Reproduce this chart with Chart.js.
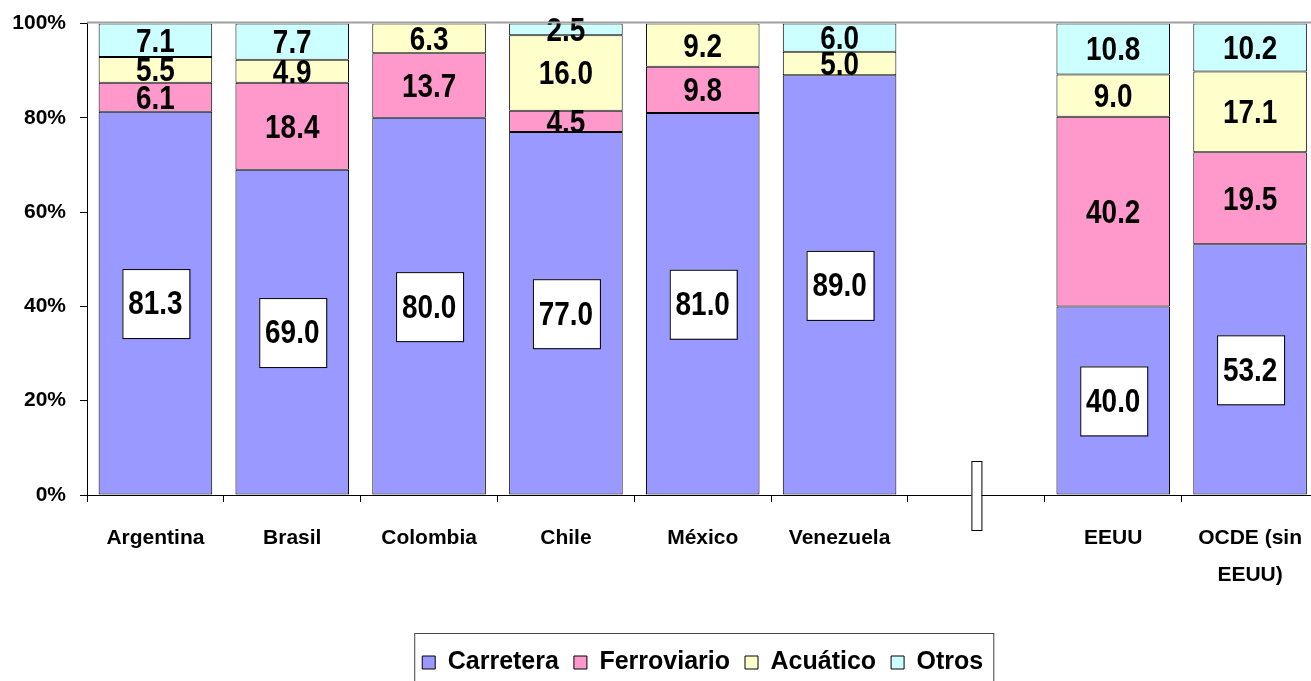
<!DOCTYPE html>
<html>
<head>
<meta charset="utf-8">
<title>Reparto modal</title>
<script src="https://cdn.jsdelivr.net/npm/chart.js@4.4.1/dist/chart.umd.min.js"></script>
<style>
    html, body { margin: 0; padding: 0; background: #fff; overflow: hidden; }
    #wrap { width: 1319px; height: 685px; }
</style>
</head>
<body>
<div id="wrap"><canvas id="modalChart" width="1319" height="685"></canvas></div>
<script>
const categories = ['Argentina', 'Brasil', 'Colombia', 'Chile', 'México', 'Venezuela', '', 'EEUU', ['OCDE (sin', 'EEUU)']];
const carretera = [81.3, 69.0, 80.0, 77.0, 81.0, 89.0, null, 40.0, 53.2];
const ferroviario = [6.1, 18.4, 13.7, 4.5, 9.8, null, null, 40.2, 19.5];
const acuatico = [5.5, 4.9, 6.3, 16.0, 9.2, 5.0, null, 9.0, 17.1];
const otros = [7.1, 7.7, null, 2.5, null, 6.0, null, 10.8, 10.2];
const yTicks = [0, 20, 40, 60, 80, 100];
const gapIndex = 6;

const FONT = '"Liberation Sans", Arial, sans-serif';
Chart.defaults.font.family = FONT;
Chart.defaults.font.weight = 'bold';
Chart.defaults.color = '#000';

// value labels; the Carretera ones sit in white boxes
const valueLabels = {
    id: 'valueLabels',
    afterDatasetsDraw(chart) {
        const ctx = chart.ctx;
        ctx.save();
        ctx.font = 'bold 34px ' + FONT;
        ctx.textAlign = 'center';
        ctx.textBaseline = 'middle';
        chart.data.datasets.forEach((ds, i) => {
            const meta = chart.getDatasetMeta(i);
            meta.data.forEach((bar, j) => {
                const v = ds.data[j];
                if (v == null) return;
                const cy = (bar.y + bar.base) / 2;
                if (i === 0) {
                    ctx.fillStyle = '#fff';
                    ctx.strokeStyle = '#000';
                    ctx.lineWidth = 1;
                    ctx.fillRect(bar.x - 33, cy - 34, 67, 69);
                    ctx.strokeRect(bar.x - 33 + 0.5, cy - 34 + 0.5, 67, 69);
                }
                // squeeze the text a bit, the original uses a narrow face
                ctx.save();
                ctx.translate(bar.x, cy + 2);
                ctx.scale(0.82, 1);
                ctx.fillStyle = '#000';
                ctx.fillText(v.toFixed(1), 0, 0);
                ctx.restore();
            });
        });
        ctx.restore();
    }
};

// top border line, axis break mark and legend frame
const extras = {
    id: 'extras',
    afterDraw(chart) {
        const ctx = chart.ctx;
        const area = chart.chartArea;
        ctx.save();
        ctx.strokeStyle = '#a0a0a0';
        ctx.lineWidth = 2;
        ctx.beginPath();
        ctx.moveTo(area.left, area.top - 1);
        ctx.lineTo(area.right, area.top - 1);
        ctx.stroke();

        const gx = chart.scales.x.getPixelForValue(gapIndex);
        ctx.fillStyle = '#fff';
        ctx.strokeStyle = '#000';
        ctx.lineWidth = 1;
        ctx.fillRect(gx - 5, area.bottom - 34, 10, 69);
        ctx.strokeRect(gx - 5 + 0.5, area.bottom - 34 + 0.5, 10, 69);

        const boxes = chart.legend.legendHitBoxes;
        if (boxes && boxes.length) {
            const first = boxes[0];
            const last = boxes[boxes.length - 1];
            const left = first.left - 8;
            const right = last.left + last.width + 10;
            ctx.strokeStyle = '#444';
            ctx.strokeRect(left + 0.5, 633.5, right - left, 80);
        }
        ctx.restore();
    }
};

function makeSet(label, data, color) {
    return {
        label: label,
        data: data,
        backgroundColor: color,
        borderColor: '#000',
        borderWidth: 1,
        borderSkipped: false,
        categoryPercentage: 1.0,
        barPercentage: 0.83
    };
}

new Chart(document.getElementById('modalChart').getContext('2d'), {
    type: 'bar',
    data: {
        labels: categories,
        datasets: [
            makeSet('Carretera', carretera, '#9999ff'),
            makeSet('Ferroviario', ferroviario, '#ff99cc'),
            makeSet('Acuático', acuatico, '#ffffcc'),
            makeSet('Otros', otros, '#ccffff')
        ]
    },
    options: {
        responsive: false,
        animation: false,
        layout: { padding: { top: 23, left: 0, right: 0, bottom: 0 } },
        scales: {
            x: {
                stacked: true,
                grid: { drawOnChartArea: false, offset: true, tickLength: 7, color: '#000' },
                border: { color: '#000', width: 1 },
                ticks: {
                    maxRotation: 0,
                    autoSkip: false,
                    padding: 17,
                    font: { size: 21, weight: 'bold', lineHeight: 1.8 }
                },
                afterFit(scale) { scale.height = 140; }
            },
            y: {
                stacked: true,
                min: 0,
                max: 100,
                afterBuildTicks(scale) { scale.ticks = yTicks.map(v => ({ value: v })); },
                grid: { drawOnChartArea: false, tickLength: 7, color: '#000' },
                border: { color: '#000', width: 1 },
                ticks: {
                    padding: 14,
                    font: { size: 21, weight: 'bold', lineHeight: 0.9 },
                    callback: v => v + '%'
                },
                afterFit(scale) { scale.width = 87; }
            }
        },
        plugins: {
            legend: {
                position: 'bottom',
                fullSize: false,
                labels: {
                    boxWidth: 13,
                    boxHeight: 13,
                    padding: 15,
                    font: { size: 25, weight: 'bold' },
                    color: '#000'
                }
            },
            tooltip: { enabled: false }
        }
    },
    plugins: [valueLabels, extras]
});
</script>
</body>
</html>
